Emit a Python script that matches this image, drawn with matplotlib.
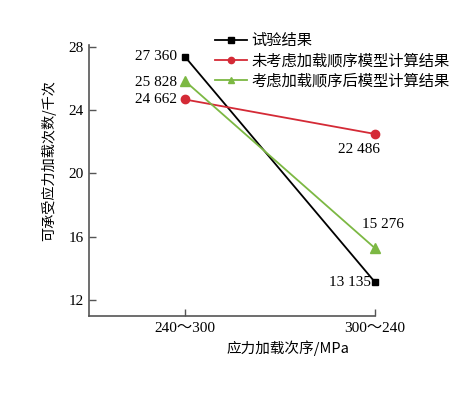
import matplotlib
matplotlib.use("Agg")
import matplotlib.pyplot as plt

categories = ["240～300", "300～240"]
test_vals = [27.360, 13.135]
no_seq_vals = [24.662, 22.486]
seq_vals = [25.828, 15.276]
test_labels = ["27 360", "13 135"]
no_seq_labels = ["24 662", "22 486"]
seq_labels = ["25 828", "15 276"]
yticks = [12, 16, 20, 24, 28]

serif = ['Liberation Serif', 'Noto Sans CJK SC']
cjk = ['Noto Sans CJK SC', 'DejaVu Sans']

fig = plt.figure(figsize=(4.6, 3.93), dpi=100)
ax = fig.add_axes([89/460, 1-316/393, (375-89)/460, (316-45)/393])

x = [0, 1]
black = "#000000"
red = "#d42a36"
green = "#7cb843"
l1, = ax.plot(x, test_vals, color=black, lw=1.3, marker='s', ms=5, clip_on=False, zorder=3)
l2, = ax.plot(x, no_seq_vals, color=red, lw=1.3, marker='o', ms=6, clip_on=False, zorder=3)
l3, = ax.plot(x, seq_vals, color=green, lw=1.3, marker='^', ms=6.5, clip_on=False, zorder=3)

ax.set_xlim(-0.505, 1.0)
ax.set_ylim(11, 28.1)
ax.set_xticks(x)
ax.set_xticklabels(categories, family=serif, fontsize=11)
ax.set_yticks(yticks)
ax.set_yticklabels([str(v) for v in yticks], family=serif, fontsize=11)
ax.tick_params(direction='in', length=5, width=1, color='#555555', pad=4)
for s in ['top', 'right']:
    ax.spines[s].set_visible(False)
for s in ['left', 'bottom']:
    ax.spines[s].set_color('#555555')
    ax.spines[s].set_linewidth(1.2)

ax.set_ylabel("可承受应力加载次数/千次", family=cjk, fontsize=10.2)
ax.yaxis.set_label_coords(-0.115, 0.575)
ax.set_xlabel("应力加载次序/MPa", family=cjk, fontsize=10.5)
ax.xaxis.set_label_coords(0.695, -0.09)

fs = 11
ax.annotate(test_labels[0], (0, test_vals[0]), xytext=(-6, 0), textcoords='offset points',
            ha='right', va='center', family=serif, fontsize=fs)
ax.annotate(seq_labels[0], (0, seq_vals[0]), xytext=(-6, -1), textcoords='offset points',
            ha='right', va='center', family=serif, fontsize=fs)
ax.annotate(no_seq_labels[0], (0, no_seq_vals[0]), xytext=(-6, 0), textcoords='offset points',
            ha='right', va='center', family=serif, fontsize=fs)
ax.annotate(no_seq_labels[1], (1, no_seq_vals[1]), xytext=(-11.5, -11), textcoords='offset points',
            ha='center', va='center', family=serif, fontsize=fs)
ax.annotate(seq_labels[1], (1, seq_vals[1]), xytext=(6, 17), textcoords='offset points',
            ha='center', va='center', family=serif, fontsize=fs)
ax.annotate(test_labels[1], (1, test_vals[1]), xytext=(-3, 0), textcoords='offset points',
            ha='right', va='center', family=serif, fontsize=fs)

leg = fig.legend([l1, l2, l3], ["试验结果", "未考虑加载顺序模型计算结果", "考虑加载顺序后模型计算结果"],
                 loc='upper left', bbox_to_anchor=(215/460, 1-32/393), frameon=False,
                 prop={'family': cjk, 'size': 11}, handlelength=2.1, handletextpad=0.3,
                 labelspacing=0.2, borderaxespad=0, borderpad=0)
for h in leg.legend_handles:
    h.set_markersize(4.5)

fig.savefig("out.png", dpi=100)
